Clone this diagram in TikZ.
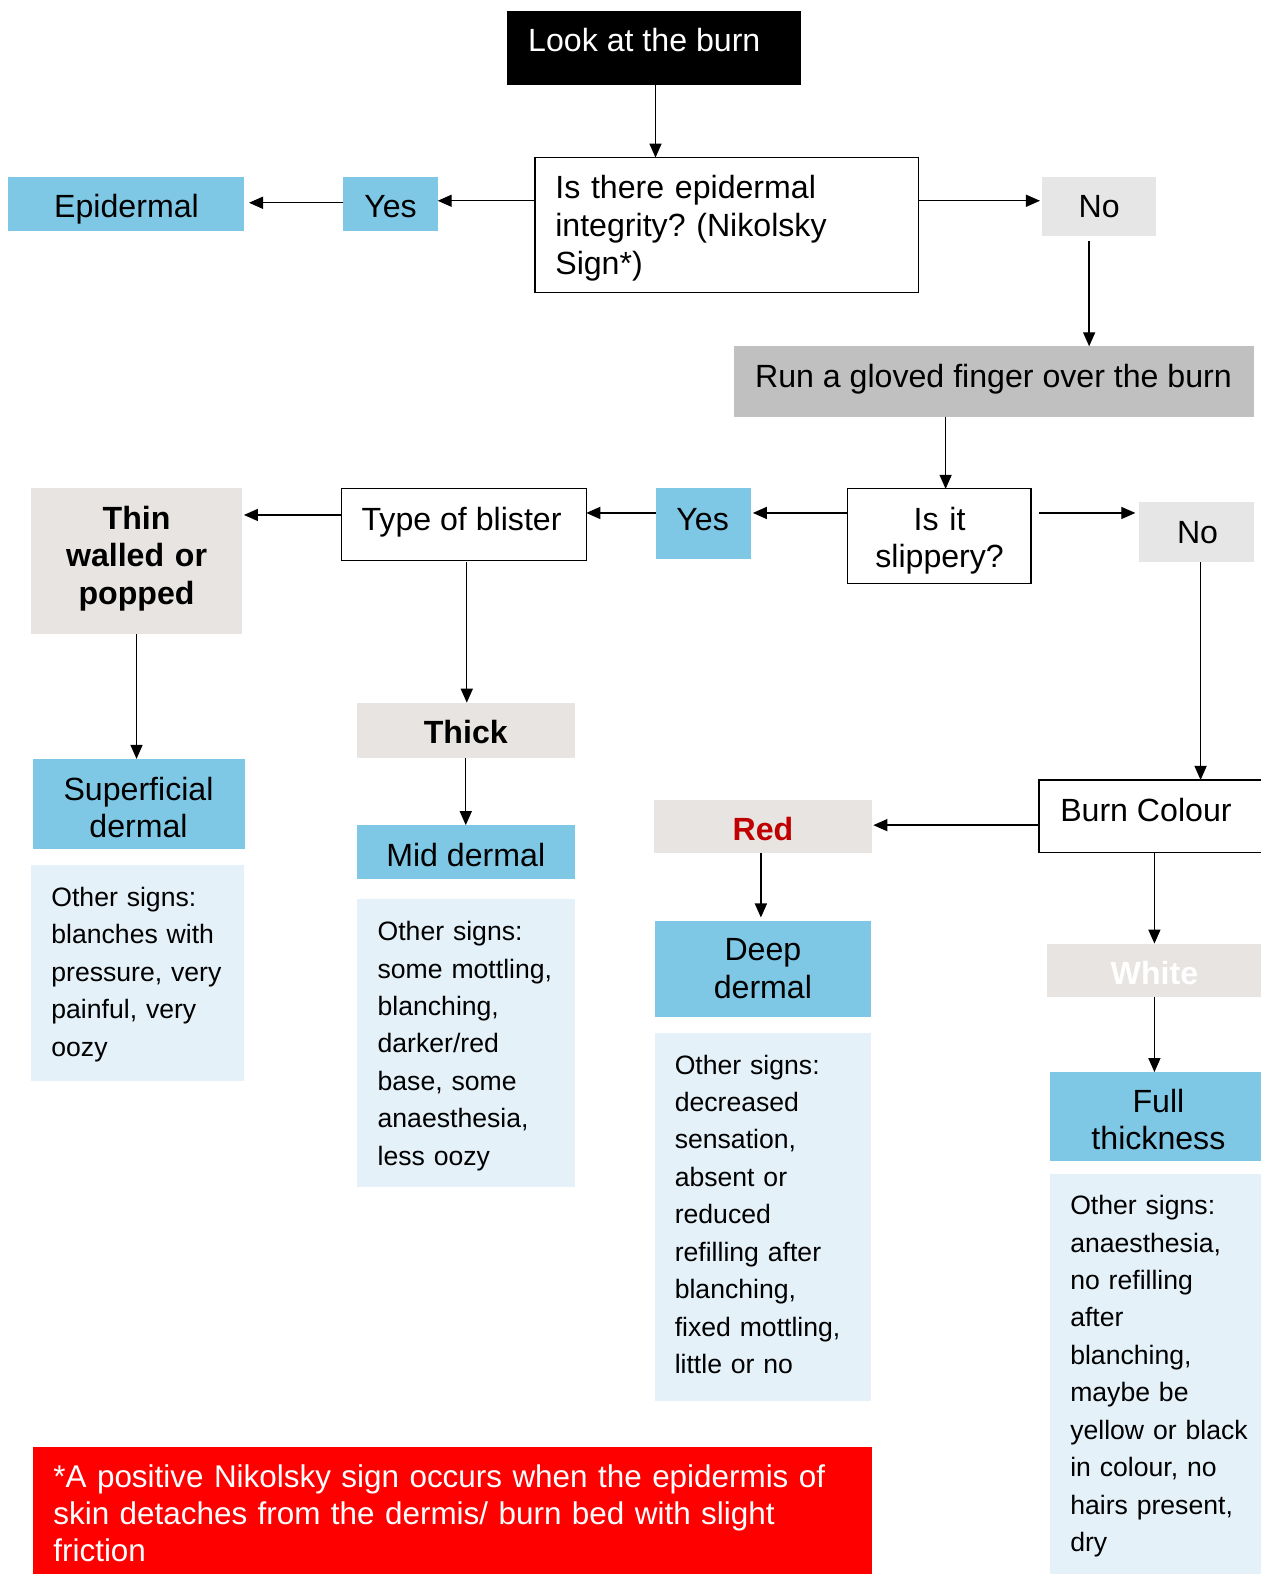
\documentclass[tikz,border=0pt]{standalone}
\usepackage{fontspec}
\setmainfont{Liberation Sans}
\frenchspacing
\usetikzlibrary{arrows.meta,fit}
\definecolor{skyblue}{RGB}{126,200,230}
\definecolor{paleblue}{RGB}{228,241,248}
\definecolor{warmgray}{RGB}{231,228,225}
\definecolor{lightgray}{RGB}{230,230,230}
\definecolor{midgray}{RGB}{192,192,192}
\definecolor{darkred}{RGB}{192,0,0}
\tikzset{
  box/.style={inner sep=0pt, outer sep=0pt},
  outlined/.style={box, draw=black, line width=1.2pt, fill=white},
  bluebox/.style={box, fill=skyblue},
  palebox/.style={box, fill=paleblue},
  warmbox/.style={box, fill=warmgray},
  greybox/.style={box, fill=lightgray},
  big/.style={font=\fontsize{32}{37.5}\selectfont, inner sep=0pt},
  bigbold/.style={font=\fontsize{32}{37.5}\selectfont\bfseries, inner sep=0pt},
  small/.style={font=\fontsize{26.5}{37.3}\selectfont, inner sep=0pt},
  notefont/.style={font=\fontsize{31.3}{37}\selectfont, inner sep=0pt},
  leftlines/.style={anchor=base west, align=left, text width=#1},
  midlines/.style={anchor=base, align=center, text width=#1},
  arr/.style={line width=1.4pt, -{Triangle[width=12pt,length=14pt]}},
  plain/.style={line width=1.4pt}
}
\begin{document}
\begin{tikzpicture}[x=1pt,y=-1pt]
\path[use as bounding box, clip] (0,0) rectangle (1256,1568);

% ---------- boxes ----------
\node[box, fill=black, fit={(505,11) (798,85)}] (look) {};
\node[outlined, fit={(533,157) (915,291)}] (q1) {};
\node[bluebox, fit={(342,176) (436,230)}] (yes1) {};
\node[bluebox, fit={(8,176) (243,230)}] (epi) {};
\node[greybox, fit={(1038,176) (1152,235)}] (no1) {};
\node[box, fill=midgray, fit={(731,345) (1249,415)}] (run) {};
\node[outlined, fit={(844,487) (1027,581)}] (q2) {};
\node[bluebox, fit={(653,486) (748,557)}] (yes2) {};
\node[greybox, fit={(1135,500) (1249,560)}] (no2) {};
\node[outlined, fit={(340,487) (584,558)}] (blister) {};
\node[warmbox, fit={(31,486) (241,632)}] (thin) {};
\node[bluebox, fit={(33,756) (244,846)}] (sup) {};
\node[palebox, fit={(31,862) (243,1077)}] (os1) {};
\node[warmbox, fit={(356,700) (573,755)}] (thick) {};
\node[bluebox, fit={(356,822) (573,876)}] (mid) {};
\node[palebox, fit={(356,896) (573,1182)}] (os2) {};
\node[outlined, fit={(1035,777) (1275,849)}] (colour) {};
\node[warmbox, fit={(651,797) (869,850)}] (red) {};
\node[bluebox, fit={(652,917) (868,1013)}] (deep) {};
\node[palebox, fit={(652,1029) (868,1396)}] (os3) {};
\node[warmbox, fit={(1043,940) (1260,993)}] (white) {};
\node[bluebox, fit={(1046,1068) (1260,1157)}] (full) {};
\node[palebox, fit={(1046,1170) (1260,1580)}] (os4) {};
\node[box, fill=red, fit={(33,1441) (869,1580)}] (note) {};

% ---------- texts ----------
\node[big, text=white, anchor=base west] (tlook) at (526,51) {Look at the burn};
\node[big, leftlines=360] (tq1) at (553,198) {Is there epidermal\\integrity? (Nikolsky\\Sign*)};
\node[big, anchor=base] (tyes1) at (389,217) {Yes};
\node[big, anchor=base] (tepi) at (126,217) {Epidermal};
\node[big, anchor=base] (tno1) at (1095,217) {No};
\node[big, anchor=base west] (trun) at (752,386) {Run a gloved finger over the burn};
\node[big, midlines=180] (tq2) at (936,528) {Is it\\slippery?};
\node[big, anchor=base] (tyes2) at (700,528) {Yes};
\node[big, anchor=base] (tno2) at (1193,541) {No};
\node[big, anchor=base west] (tblister) at (360,528) {Type of blister};
\node[bigbold, midlines=200] (tthin) at (136,527) {Thin\\walled or\\popped};
\node[big, midlines=210] (tsup) at (138,797) {Superficial\\dermal};
\node[small, leftlines=200] (tos1) at (51,903) {Other signs:\\blanches with\\pressure, very\\painful, very\\oozy};
\node[bigbold, anchor=base] (tthick) at (464,741) {Thick};
\node[big, anchor=base] (tmid) at (464,863) {Mid dermal};
\node[small, leftlines=200] (tos2) at (376,937) {Other signs:\\some mottling,\\blanching,\\darker/red\\base, some\\anaesthesia,\\less oozy};
\node[big, anchor=base west] (tcolour) at (1056,818) {Burn Colour};
\node[bigbold, text=darkred, anchor=base] (tred) at (760,837) {Red};
\node[big, midlines=210] (tdeep) at (760,957) {Deep\\dermal};
\node[small, leftlines=200] (tos3) at (672,1070) {Other signs:\\decreased\\sensation,\\absent or\\reduced\\refilling after\\blanching,\\fixed mottling,\\little or no};
\node[bigbold, text=white, anchor=base] (twhite) at (1150,981) {White};
\node[big, midlines=210] (tfull) at (1154,1108) {Full\\thickness};
\node[small, leftlines=200] (tos4) at (1066,1210) {Other signs:\\anaesthesia,\\no refilling\\after\\blanching,\\maybe be\\yellow or black\\in colour, no\\hairs present,\\dry};
\node[notefont, text=white, leftlines=820] (tnote) at (53,1482) {*A positive Nikolsky sign occurs when the epidermis of\\skin detaches from the dermis/ burn bed with slight\\friction};

% ---------- connectors ----------
\draw[arr] (look.south -| 653,0) -- (q1.north -| 653,0);
\draw[arr] (q1.west |- 0,200) -- (yes1.east |- 0,200);
\draw[arr] (yes1.west |- 0,202) -- ([xshift=5pt]epi.east |- 0,202);
\draw[arr] (q1.east |- 0,200) -- ([xshift=-2pt]no1.west |- 0,200);
\draw[arr] ([yshift=-5pt]no1.south -| 1085,0) -- (run.north -| 1085,0);
\draw[arr] (run.south -| 942,0) -- (q2.north -| 942,0);
\draw[arr] (q2.west |- 0,511) -- ([xshift=2pt]yes2.east |- 0,511);
\draw[arr] (yes2.west |- 0,511) -- (blister.east |- 0,511);
\draw[arr] ([xshift=8pt]q2.east |- 0,511) -- ([xshift=-4pt]no2.west |- 0,511);
\draw[arr] (no2.south -| 1196,0) -- (colour.north -| 1196,0);
\draw[arr] (blister.west |- 0,513) -- ([xshift=2pt]thin.east |- 0,513);
\draw[arr] ([yshift=-2pt]blister.south -| 465,0) -- (thick.north -| 465,0);
\draw[arr] (thin.south -| 136,0) -- (sup.north -| 136,0);
\draw[arr] (thick.south -| 464,0) -- (mid.north -| 464,0);
\draw[arr] (colour.west |- 0,822) -- ([xshift=1pt]red.east |- 0,822);
\draw[arr] (red.south -| 758,0) -- ([yshift=3pt]deep.north -| 758,0);
\draw[arr] (colour.south -| 1150,0) -- (white.north -| 1150,0);
\draw[arr] (white.south -| 1150,0) -- (full.north -| 1150,0);
\end{tikzpicture}
\end{document}
